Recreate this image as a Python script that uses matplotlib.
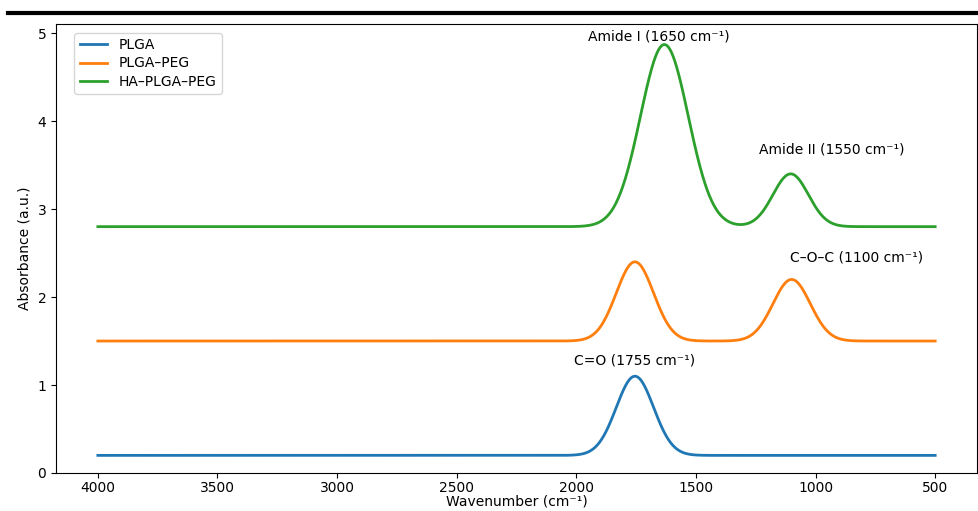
import numpy as np
import matplotlib.pyplot as plt
from matplotlib.lines import Line2D

# spectra: baseline + gaussian peaks (centre, height above baseline, width)
names = ['PLGA', 'PLGA–PEG', 'HA–PLGA–PEG']
baselines = [0.2, 1.5, 2.8]
peak_centres = [[1755], [1755, 1100], [1632, 1104]]
peak_heights = [[0.9], [0.9, 0.7], [2.07, 0.6]]
peak_widths = [[78], [78, 78], [100, 74]]

labels = ['C=O (1755 cm⁻¹)', 'C–O–C (1100 cm⁻¹)', 'Amide I (1650 cm⁻¹)', 'Amide II (1550 cm⁻¹)']
label_x = [1757, 829, 1657, 933]
label_y = [1.2, 2.37, 4.88, 3.6]

wn = np.linspace(4000, 500, 1500)

fig = plt.figure(figsize=(9.79, 5.11), dpi=100)
ax = fig.add_axes([0.0572, 0.0744, 0.9408, 0.8786])

for name, base, cs, hs, ws in zip(names, baselines, peak_centres, peak_heights, peak_widths):
    y = np.full_like(wn, base)
    for c, h, w in zip(cs, hs, ws):
        y = y + h * np.exp(-0.5 * ((wn - c) / w) ** 2)
    ax.plot(wn, y, lw=2, label=name)

for t, x, y in zip(labels, label_x, label_y):
    ax.text(x, y, t, ha='center', va='bottom', fontsize=10)

ax.invert_xaxis()
ax.set_ylim(bottom=0)
ax.tick_params(axis='x', pad=2)
ax.set_xlabel('Wavenumber (cm⁻¹)', labelpad=0)
ax.set_ylabel('Absorbance (a.u.)')
ax.legend(loc='upper left', bbox_to_anchor=(0.012, 0.996), labelspacing=0.3)

# thick rule across the top of the image
fig.add_artist(Line2D([0.008, 1.0], [0.9736, 0.9736], color='black', lw=3, transform=fig.transFigure))

fig.savefig('out.png', dpi=100)
